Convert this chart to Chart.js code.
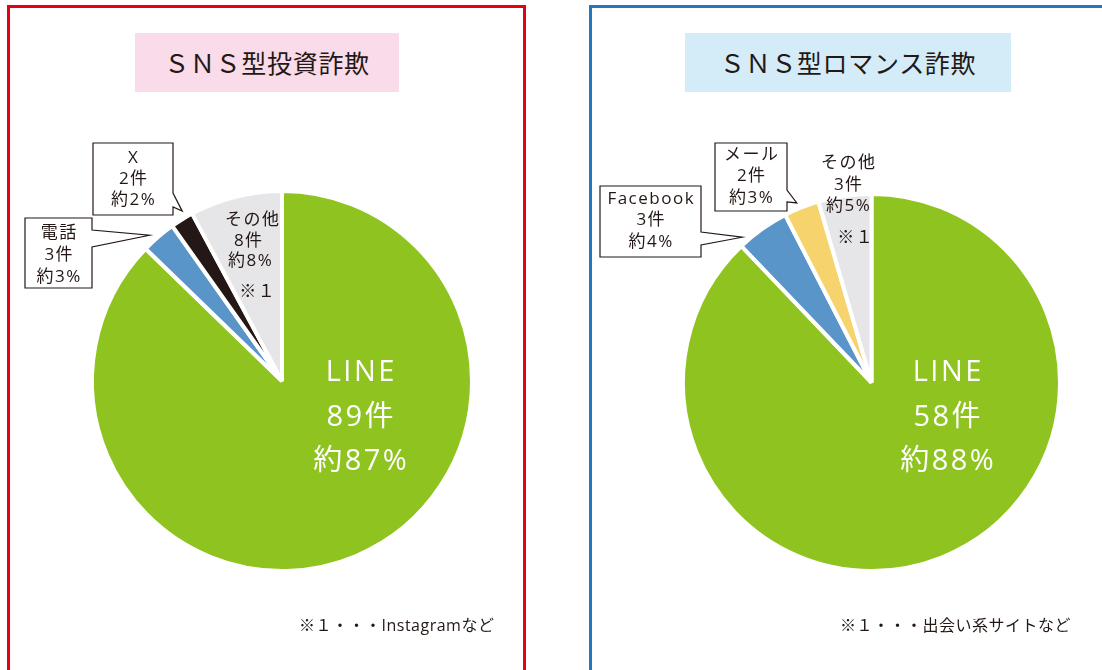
<!DOCTYPE html>
<html lang="ja">
<head>
<meta charset="utf-8">
<script src="https://cdn.jsdelivr.net/npm/chart.js@4.4.1/dist/chart.umd.min.js"></script>
<style>
  html, body { margin:0; padding:0; background:#fff; width:1102px; height:670px; overflow:hidden; }
  body { position:relative; font-family:"Noto Sans CJK JP","Noto Sans",sans-serif; color:#231815; }
  .panel { position:absolute; top:5px; height:720px; box-sizing:border-box; }
  #panelL { left:7px; width:519px; border:3px solid #e60012; }
  #panelR { left:589px; width:600px; border:3px solid #2178bf; }
  .title { position:absolute; top:33px; height:59px; line-height:59px; text-align:center;
           font-size:25px; letter-spacing:0.7px; color:#231815; }
  #titleL { left:135px; width:264px; background:#fadbe9; }
  #titleR { left:685px; width:326px; background:#d4ebf8; }
  .cv { position:absolute; top:0; }
  #cvL { left:0; }
  #cvR { left:551px; }
  .note { position:absolute; top:614px; font-size:16px; line-height:22px; color:#231815; white-space:nowrap;
          letter-spacing:0.5px; font-family:"Open Sans","Noto Sans CJK JP",sans-serif; }
  #noteL { left:299px; }
  #noteR { left:840px; }
</style>
</head>
<body>
<div class="panel" id="panelL"></div>
<div class="panel" id="panelR"></div>
<canvas class="cv" id="cvL" width="551" height="670"></canvas>
<canvas class="cv" id="cvR" width="551" height="670"></canvas>
<div class="title" id="titleL">ＳＮＳ型投資詐欺</div>
<div class="title" id="titleR">ＳＮＳ型ロマンス詐欺</div>
<div class="note" id="noteL">※１・・・Instagramなど</div>
<div class="note" id="noteR">※１・・・出会い系サイトなど</div>
<script>
// ---- data ----
const leftCategories = ['LINE', '電話', 'X', 'その他'];
const leftCounts = [89, 3, 2, 8];
const leftPercents = ['約87%', '約3%', '約2%', '約8%'];
const leftColors = ['#8fc31f', '#5a95c9', '#231815', '#e6e5e7'];

const rightCategories = ['LINE', 'Facebook', 'メール', 'その他'];
const rightCounts = [58, 3, 2, 3];
const rightPercents = ['約88%', '約4%', '約3%', '約5%'];
const rightColors = ['#8fc31f', '#5a95c9', '#f6d36c', '#e6e5e7'];

const noteMark = '※１';

function labelLines(cats, counts, pcts, i, withNote) {
  const l = [cats[i], counts[i] + '件', pcts[i]];
  if (withNote) l.push(noteMark);
  return l;
}

const FONT = '"Open Sans","Noto Sans CJK JP","Noto Sans",sans-serif';

function drawText(ctx, t, x, y, ls) {
  // centre the text while compensating the trailing letter spacing
  ctx.fillText(t, x + ls / 2, y);
}

const annotPlugin = {
  id: 'annot',
  afterDraw(chart, args, opts) {
    const ctx = chart.ctx;
    const arcs = chart.getDatasetMeta(0).data;
    const cx = arcs[0].x, cy = arcs[0].y;
    ctx.save();
    ctx.textAlign = 'center';
    ctx.textBaseline = 'middle';
    (opts.inside || []).forEach(it => {
      ctx.fillStyle = it.color;
      ctx.font = it.size + 'px ' + FONT;
      ctx.letterSpacing = it.ls + 'px';
      it.lines.forEach((t, k) => {
        const dx = Array.isArray(it.dx) ? it.dx[k] : it.dx;
        drawText(ctx, t, cx + dx, cy + it.dy[k], it.ls);
      });
    });
    (opts.callouts || []).forEach(c => {
      const a = arcs[c.index];
      const ang = a.startAngle + c.frac * (a.endAngle - a.startAngle);
      const r = a.outerRadius + c.gap;
      const tx = a.x + Math.cos(ang) * r, ty = a.y + Math.sin(ang) * r;
      const [x0, y0, x1, y1] = c.box;
      ctx.beginPath();
      ctx.moveTo(x0, y0);
      ctx.lineTo(x1, y0);
      ctx.lineTo(x1, c.notch[0]);
      ctx.lineTo(tx, ty);
      ctx.lineTo(x1, c.notch[1]);
      ctx.lineTo(x1, y1);
      ctx.lineTo(x0, y1);
      ctx.closePath();
      ctx.fillStyle = '#ffffff';
      ctx.fill();
      ctx.lineWidth = 1.2;
      ctx.strokeStyle = '#231815';
      ctx.lineJoin = 'miter';
      ctx.stroke();
      ctx.fillStyle = '#231815';
      ctx.font = '17px ' + FONT;
      ctx.letterSpacing = '1.5px';
      const mx = (x0 + x1) / 2;
      c.lines.forEach((t, k) => drawText(ctx, t, mx, y0 + c.top + k * c.step, 1.5));
    });
    ctx.restore();
  }
};

function makePie(id, cats, counts, colors, radius, padding, annot) {
  return new Chart(document.getElementById(id), {
    type: 'pie',
    data: {
      labels: cats,
      datasets: [{
        data: counts,
        backgroundColor: colors,
        borderColor: '#ffffff',
        borderWidth: 4,
        hoverOffset: 0
      }]
    },
    options: {
      responsive: false,
      animation: false,
      events: [],
      radius: radius,
      layout: { padding: padding },
      plugins: {
        legend: { display: false },
        tooltip: { enabled: false },
        annot: annot
      }
    },
    plugins: [annotPlugin]
  });
}

makePie('cvL', leftCategories, leftCounts, leftColors, 190,
  { left: 82, right: 69, top: 181, bottom: 89 },
  {
    inside: [
      { lines: labelLines(leftCategories, leftCounts, leftPercents, 0, false),
        dx: 78, dy: [-8, 37, 81], color: '#ffffff', size: 29, ls: 2.5 },
      { lines: labelLines(leftCategories, leftCounts, leftPercents, 3, true),
        dx: [-30, -34, -32, -25], dy: [-161, -140, -120, -89], color: '#231815', size: 17, ls: 1.5 }
    ],
    callouts: [
      { index: 1, frac: 0.34, gap: 7, box: [25, 218, 92, 288], notch: [230, 247],
        lines: labelLines(leftCategories, leftCounts, leftPercents, 1, false), top: 15, step: 22 },
      { index: 2, frac: 0.69, gap: 7, box: [93, 143, 173, 215], notch: [193, 207],
        lines: labelLines(leftCategories, leftCounts, leftPercents, 2, false), top: 15, step: 21 }
    ]
  });

makePie('cvR', rightCategories, rightCounts, rightColors, 188.5,
  { left: 120, right: 30, top: 182, bottom: 87 },
  {
    inside: [
      { lines: labelLines(rightCategories, rightCounts, rightPercents, 0, false),
        dx: 75.5, dy: [-9.5, 35.5, 79.5], color: '#ffffff', size: 29, ls: 2.5 },
      { lines: labelLines(rightCategories, rightCounts, rightPercents, 3, true),
        dx: [-23.5, -23.5, -23.5, -16.5], dy: [-219.5, -197.5, -176.5, -144.5], color: '#231815', size: 17, ls: 1.5 }
    ],
    callouts: [
      { index: 1, frac: 0.12, gap: 6, box: [600 - 551, 186, 701 - 551, 257], notch: [232, 245],
        lines: labelLines(rightCategories, rightCounts, rightPercents, 1, false), top: 13, step: 21.5 },
      { index: 2, frac: 0.43, gap: 6, box: [715 - 551, 143, 787 - 551, 211], notch: [190, 202],
        lines: labelLines(rightCategories, rightCounts, rightPercents, 2, false), top: 12, step: 21.5 }
    ]
  });
</script>
</body>
</html>
